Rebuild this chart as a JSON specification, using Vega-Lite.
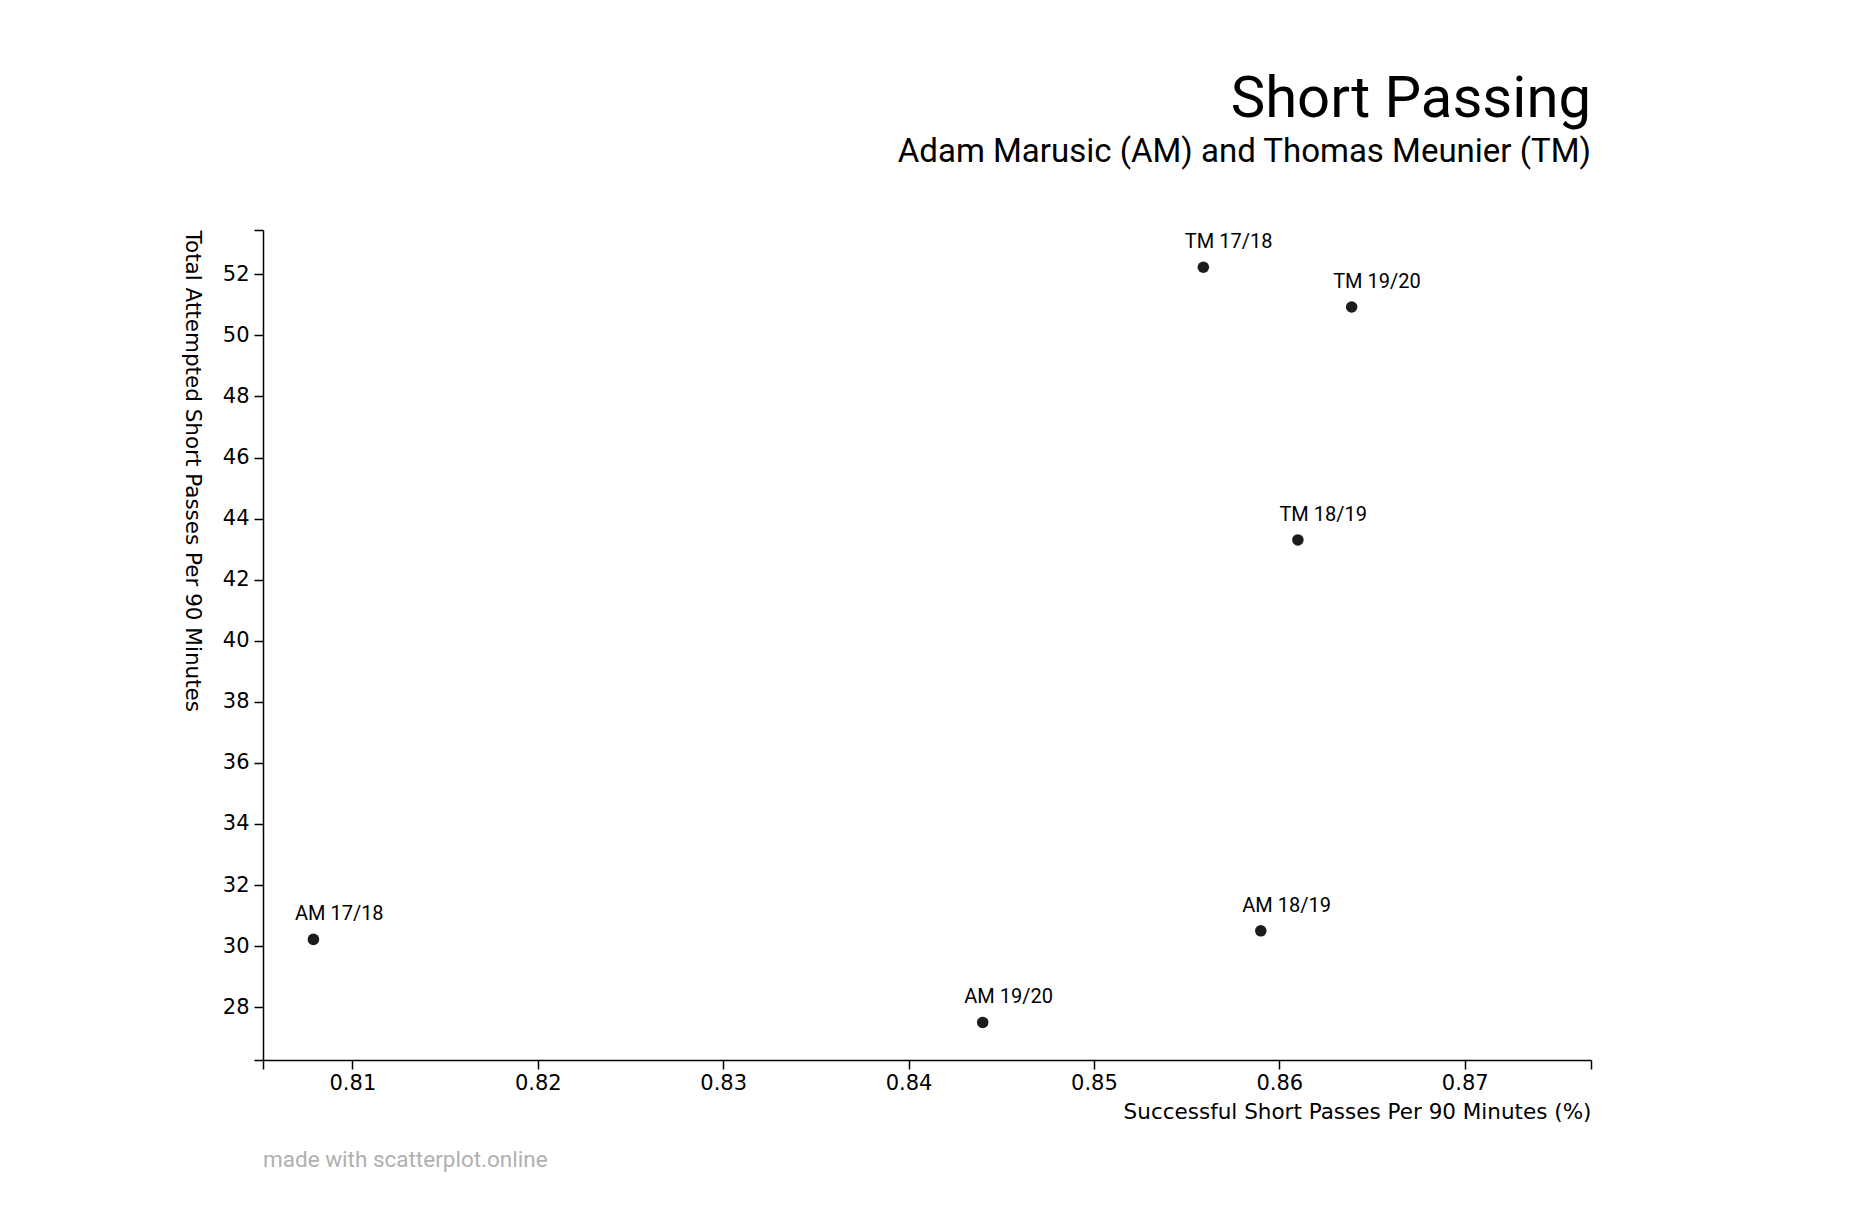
{
  "$schema": "https://vega.github.io/schema/vega-lite/v6.json",
  "width": 1328,
  "height": 830,
  "autosize": {"type": "none"},
  "padding": {"left": 263, "top": 230, "right": 263, "bottom": 146},
  "background": "white",
  "title": {
    "text": "Short Passing",
    "subtitle": "Adam Marusic (AM) and Thomas Meunier (TM)",
    "anchor": "end",
    "frame": "group",
    "font": "Roboto",
    "fontSize": 58,
    "fontWeight": "normal",
    "color": "black",
    "subtitleFont": "Roboto",
    "subtitleFontSize": 33,
    "subtitleColor": "black",
    "subtitlePadding": 7,
    "offset": 50
  },
  "layer": [
    {
      "data": {
        "values": [
          {"label": "AM 17/18", "player": "AM", "success": 0.8079, "attempted": 30.22},
          {"label": "AM 18/19", "player": "AM", "success": 0.859, "attempted": 30.5},
          {"label": "AM 19/20", "player": "AM", "success": 0.844, "attempted": 27.5},
          {"label": "TM 17/18", "player": "TM", "success": 0.8559, "attempted": 52.23},
          {"label": "TM 18/19", "player": "TM", "success": 0.861, "attempted": 43.3},
          {"label": "TM 19/20", "player": "TM", "success": 0.8639, "attempted": 50.93}
        ]
      },
      "encoding": {
        "x": {
          "field": "success",
          "type": "quantitative",
          "title": "Successful Short Passes Per 90 Minutes (%)",
          "scale": {"domain": [0.80518, 0.87681], "nice": false, "zero": false},
          "axis": {
            "values": [0.80518, 0.81, 0.82, 0.83, 0.84, 0.85, 0.86, 0.87, 0.87681],
            "labelExpr": "datum.value < 0.806 || datum.value > 0.876 ? '' : format(datum.value, '.2f')",
            "labelPadding": 3,
            "titleAnchor": "end",
            "titleAlign": "right",
            "titlePadding": 8
          }
        },
        "y": {
          "field": "attempted",
          "type": "quantitative",
          "title": "Total Attempted Short Passes Per 90 Minutes",
          "scale": {"domain": [26.27, 53.45], "nice": false, "zero": false},
          "axis": {
            "values": [26.27, 28, 30, 32, 34, 36, 38, 40, 42, 44, 46, 48, 50, 52, 53.45],
            "labelExpr": "datum.value < 27 || datum.value > 53 ? '' : format(datum.value, 'd')",
            "labelPadding": 5,
            "titleAngle": 90,
            "titleAnchor": "end",
            "titleAlign": "left",
            "titleBaseline": "top",
            "titlePadding": 20
          }
        }
      },
      "layer": [
        {
          "mark": {"type": "point", "filled": true, "size": 133, "color": "#1c1c1c", "opacity": 1}
        },
        {
          "mark": {
            "type": "text",
            "align": "left",
            "baseline": "alphabetic",
            "dx": -18.5,
            "dy": -19,
            "font": "Roboto",
            "fontSize": 20,
            "color": "black"
          },
          "encoding": {"text": {"field": "label"}}
        }
      ]
    },
    {
      "data": {"values": [{"note": "made with scatterplot.online"}]},
      "mark": {
        "type": "text",
        "align": "left",
        "baseline": "alphabetic",
        "font": "Roboto",
        "fontSize": 22.5,
        "color": "#b0b0b0"
      },
      "encoding": {
        "x": {"datum": 0.80518, "type": "quantitative"},
        "y": {"datum": 22.76, "type": "quantitative"},
        "text": {"field": "note", "type": "nominal"}
      }
    }
  ],
  "config": {
    "view": {"stroke": null},
    "axis": {
      "grid": false,
      "domainColor": "black",
      "domainWidth": 1.5,
      "tickColor": "black",
      "tickWidth": 1.5,
      "tickSize": 9,
      "labelFont": "DejaVu Sans",
      "labelFontSize": 21,
      "labelColor": "black",
      "labelFlush": false,
      "labelOverlap": false,
      "titleFont": "DejaVu Sans",
      "titleFontSize": 21.5,
      "titleFontWeight": "normal",
      "titleColor": "black"
    }
  }
}
